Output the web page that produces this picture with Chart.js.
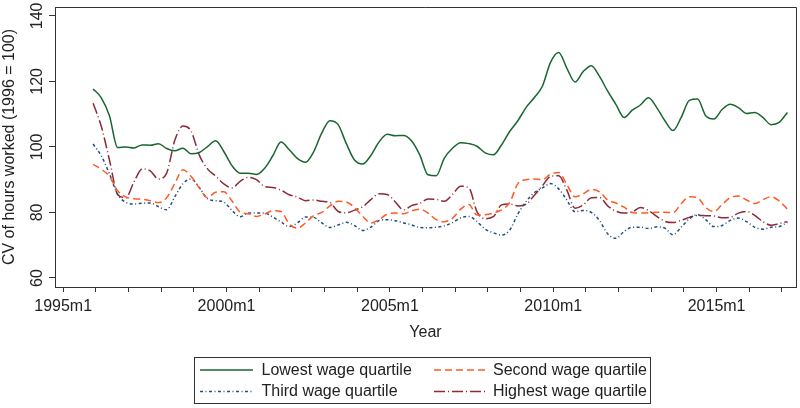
<!DOCTYPE html>
<html><head><meta charset="utf-8">
<script src="https://cdn.jsdelivr.net/npm/chart.js@4.4.1/dist/chart.umd.min.js"></script>
<style>html,body{margin:0;padding:0;background:#fff;} #wrap{position:relative;width:800px;height:408px;}</style>
</head><body><div id="wrap"><canvas id="c" width="800" height="408"></canvas></div>
<script>
// Quarterly observations starting 1995m12
const startYear = 1995, startMonth = 12, stepMonths = 3;
const seriesNames = ['Lowest wage quartile','Second wage quartile','Third wage quartile','Highest wage quartile'];
const lowest = [117.7,115,109.5,99.8,100,99.7,100.6,100.5,101,99.5, 98.8,99.6,97.9,98.3,100.1,101.9,98.6,94.3,92,92, 91.6,93.5,97.3,101.5,99.2,96.5,95.3,98.5,104.3,108, 106.8,101,96,94.8,97.4,101.5,103.9,103.4,103.5,101.8, 97.5,91.5,91.2,96.6,99.6,101.3,101,100.2,98.2,97.6, 100.6,104.7,108,112,115,118.5,125.8,128.8,124,119.8, 123,124.8,121.5,117,113,109,111.2,112.8,115,112, 108,105,109,114.2,114.6,109.5,108.5,111.4,113,112, 110.2,110.5,109,106.8,107.5,110.5];
const second = [94.7,93.2,91,86.6,84.7,84.2,84,83.6,83,84.5, 88.8,93,91,87.5,84.5,86.2,86.3,83.5,80.1,79.6, 78.8,79.5,80.5,80.3,76.5,75.2,76.8,79,80,82, 83.4,83.2,81.5,78.8,76.8,77.8,79.5,79.8,79.6,80.5, 81,79.8,77.8,77.2,78.2,81,82.4,79.2,79.3,79.8, 80.8,83,88.8,90,90.2,90,91.7,92.2,88.5,84.8, 85.7,87,86.3,83.8,82.9,81.6,80,79.8,79.9,80.1, 80.1,79.9,82.7,84.8,84.5,81.5,80.3,82.4,84.5,85, 83.8,82.7,83.9,84.8,83.5,81];
const third = [100.9,97.3,91.8,85.5,83.1,82.6,82.8,82.9,81.8,80.8, 84.8,88.8,90.2,87.6,84.2,83.6,83.2,80.6,78.7,79.8, 79.8,79.8,78.6,77.1,75.7,76.8,78.6,78.5,76.8,75.4, 76.2,77,76,74.5,75.5,77.5,77.8,77.5,76.8,76.2, 75.4,75.3,75.5,75.9,76.9,78.4,78.8,77.2,74.9,73.8, 73.1,74.6,79.5,83.3,86,87.5,88.8,87.2,83.8,80.2, 80.6,80,77.5,73.5,72.1,74.2,75.5,75.5,75.1,75.6, 75.2,73.2,75.5,78.1,79.3,77.8,75.7,76,77.6,78.3, 77.2,75.5,74.9,75.5,75.7,77];
const highest = [113.3,106.3,96,85.5,84.5,89.3,93.3,92.7,90.2,92, 102,106.4,104.8,97.5,93.3,91.1,88.7,87.5,89.5,90.7, 90,87.9,87.6,86.8,85.4,84.7,83.6,83.8,83.4,83, 80.3,79.9,80.7,81.7,83.9,85.7,85.5,83.2,80.8,82.1, 82.8,84.1,84,83.4,85.5,88,87.5,80.2,78.1,78.7, 82.3,82.6,82,82.5,85.2,88.1,91,91.2,86.8,81.3, 82.3,84.5,84.6,82,80.4,79.8,80.1,81.5,80.6,78.8, 77.3,76.9,77.6,78.5,79.1,79,78.9,78.4,78.5,79.8, 80.3,79.1,77.2,76.1,76.6,77.2];
const xTickYears = [1995,1996,1997,1998,1999,2000,2001,2002,2003,2004,2005,2006,2007,2008,2009,2010,2011,2012,2013,2014,2015,2016,2017];
const yTicks = [60,80,100,120,140];

const periods = lowest.map((_, i) => { const m = startMonth - 1 + i * stepMonths; return (startYear + Math.floor(m / 12)) + 'm' + (m % 12 + 1); });
const toYear = p => { const [y, m] = p.split('m').map(Number); return y + (m - 1) / 12; };
const pts = arr => periods.map((p, i) => ({ x: toYear(p), y: arr[i] }));

const FONT = '"Liberation Sans", Arial, Helvetica, sans-serif';
const AX = '#333333';
const FS = 16;

const styles = [
  { color: '#1a6630', dash: [], width: 1.5 },
  { color: '#ff5a24', dash: [7, 4], width: 1.5 },
  { color: '#1f4f80', dash: [3, 2.5, 1, 2.5], width: 1.5 },
  { color: '#8c2a38', dash: [11, 3, 1, 3], width: 1.5 }
];
const values = [lowest, second, third, highest];

const datasets = values.map((arr, i) => ({
  label: seriesNames[i],
  data: pts(arr),
  borderColor: styles[i].color,
  borderDash: styles[i].dash,
  borderWidth: styles[i].width,
  pointRadius: 0,
  fill: false,
  cubicInterpolationMode: 'monotone'
}));

const decor = {
  id: 'decor',
  afterDraw(chart) {
    const ctx = chart.ctx, a = chart.chartArea, ys = chart.scales.y;
    ctx.save();
    ctx.strokeStyle = AX; ctx.lineWidth = 1; ctx.setLineDash([]);
    ctx.beginPath();
    ctx.moveTo(a.left, a.top + 0.5); ctx.lineTo(a.right + 0.5, a.top + 0.5); ctx.lineTo(a.right + 0.5, a.bottom);
    ctx.stroke();
    ctx.fillStyle = '#222';
    ctx.font = FS + 'px ' + FONT;
    ctx.textAlign = 'center'; ctx.textBaseline = 'middle';
    yTicks.forEach(v => {
      const y = ys.getPixelForValue(v);
      ctx.save(); ctx.translate(38, y); ctx.rotate(-Math.PI / 2); ctx.fillText(String(v), 0, 0); ctx.restore();
    });
    ctx.save(); ctx.translate(10, (a.top + a.bottom) / 2); ctx.rotate(-Math.PI / 2);
    ctx.fillText('CV of hours worked (1996 = 100)', 0, 0); ctx.restore();
    ctx.fillText('Year', (a.left + a.right) / 2, 333);
    const L = { x: 194.5, y: 357.5, w: 456, h: 46 };
    ctx.strokeStyle = AX; ctx.lineWidth = 1;
    ctx.strokeRect(L.x, L.y, L.w, L.h);
    const rows = [370, 391.5];
    const cols = [{ s: 200, e: 253, t: 261.5 }, { s: 434, e: 486, t: 493 }];
    chart.data.datasets.forEach((ds, i) => {
      const r = rows[Math.floor(i / 2)], c = cols[i % 2];
      ctx.strokeStyle = ds.borderColor; ctx.lineWidth = ds.borderWidth;
      ctx.setLineDash(ds.borderDash || []);
      ctx.beginPath(); ctx.moveTo(c.s, r); ctx.lineTo(c.e, r); ctx.stroke();
      ctx.setLineDash([]);
      ctx.fillStyle = '#222'; ctx.textAlign = 'left'; ctx.textBaseline = 'middle';
      ctx.fillText(ds.label, c.t, r + 0.5);
    });
    ctx.restore();
  }
};

new Chart(document.getElementById('c'), {
  type: 'line',
  data: { datasets },
  options: {
    responsive: false, animation: false, devicePixelRatio: 1,
    layout: { padding: { top: 7, right: 4, left: 0, bottom: 0 } },
    plugins: { legend: { display: false }, tooltip: { enabled: false } },
    scales: {
      x: {
        type: 'linear', min: 1994.75, max: 2017.43,
        afterBuildTicks: s => { s.ticks = xTickYears.map(v => ({ value: v })); },
        afterFit: s => { s.height = 121; },
        ticks: { autoSkip: false, maxRotation: 0, minRotation: 0, padding: 5, color: '#222',
          font: { size: FS, family: FONT },
          callback: v => (v % 5 === 0 ? v + 'm1' : '') },
        grid: { drawOnChartArea: false, drawTicks: true, tickLength: 5, color: AX },
        border: { display: true, color: AX, width: 1 }
      },
      y: {
        min: 57.25, max: 142.7,
        afterBuildTicks: s => { s.ticks = yTicks.map(v => ({ value: v })); },
        afterFit: s => { s.width = 55; },
        ticks: { display: false },
        grid: { drawOnChartArea: false, drawTicks: true, tickLength: 6, color: AX },
        border: { display: true, color: AX, width: 1 }
      }
    }
  },
  plugins: [decor]
});
</script></body></html>
